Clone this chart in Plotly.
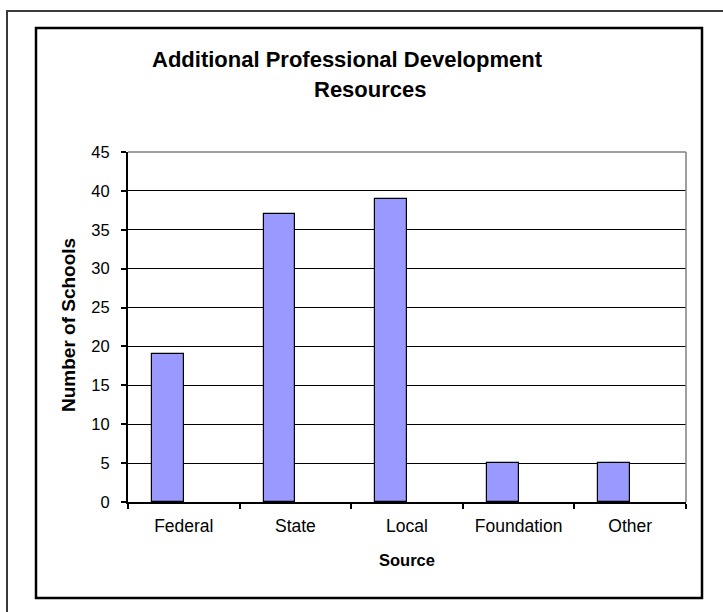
import plotly.graph_objects as go

categories = ["Federal", "State", "Local", "Foundation", "Other"]
schools = [19, 37, 39, 5, 5]
y_ticks = [0, 5, 10, 15, 20, 25, 30, 35, 40, 45]

title_line1 = "Additional Professional Development"
title_line2 = "Resources"
x_title = "Source"
y_title = "Number of Schools"

# pixel geometry helpers (plot area: x 128..686, y 152..502)
L, R, T, B = 128, 686, 152, 502
W, H = 723, 612
def px(x):
    return (x - L) / (R - L)
def py(y):
    return (B - y) / (B - T)

FONT = "Liberation Sans, Arial, sans-serif"

fig = go.Figure()
fig.add_trace(go.Bar(
    x=categories, y=schools,
    width=0.2857, offset=-0.2857,
    marker=dict(color="#9999FF", line=dict(color="black", width=1.2)),
))

fig.update_layout(
    width=W, height=H,
    margin=dict(l=L, r=W - R, t=T, b=H - B, autoexpand=False),
    paper_bgcolor="white", plot_bgcolor="white",
    showlegend=False,
    font=dict(family=FONT, color="black", size=16),
    bargap=0,
    xaxis=dict(
        type="category", showgrid=False,
        showline=True, linecolor="black", linewidth=2,
        ticks="outside", tickson="boundaries", ticklen=5, tickwidth=2, tickcolor="black",
        tickfont=dict(size=17.5, family=FONT), ticklabelstandoff=7,
        range=[-0.5, 4.5], fixedrange=True,
    ),
    yaxis=dict(
        range=[0, 45], tickvals=y_ticks,
        showgrid=True, gridcolor="black", gridwidth=1,
        showline=True, linecolor="black", linewidth=2,
        ticks="outside", ticklen=5, tickwidth=1.5, tickcolor="black",
        tickfont=dict(size=16.5, family=FONT), ticklabelstandoff=8,
        zeroline=False, fixedrange=True,
    ),
    shapes=[
        # outer frame
        dict(type="rect", xref="paper", yref="paper",
             x0=px(7), x1=px(740), y0=py(630), y1=py(11),
             line=dict(color="#3a3a3a", width=2), fillcolor="rgba(0,0,0,0)"),
        # inner chart box
        dict(type="rect", xref="paper", yref="paper",
             x0=px(36), x1=px(702), y0=py(598), y1=py(28),
             line=dict(color="black", width=2.5), fillcolor="rgba(0,0,0,0)"),
        # plot-area top/right border (gray)
        dict(type="line", xref="paper", yref="paper", x0=0, x1=1, y0=1, y1=1,
             line=dict(color="#808080", width=1.5)),
        dict(type="line", xref="paper", yref="paper", x0=1, x1=1, y0=0, y1=1,
             line=dict(color="#808080", width=1.5)),
    ],
    annotations=[
        dict(text="<b>" + title_line1 + "</b>", xref="paper", yref="paper",
             x=px(347), y=py(60), xanchor="center", yanchor="middle",
             showarrow=False, font=dict(size=22, family=FONT)),
        dict(text="<b>" + title_line2 + "</b>", xref="paper", yref="paper",
             x=px(370), y=py(89), xanchor="center", yanchor="middle",
             showarrow=False, font=dict(size=22, family=FONT)),
        dict(text="<b>" + x_title + "</b>", xref="paper", yref="paper",
             x=px(407), y=py(560), xanchor="center", yanchor="middle",
             showarrow=False, font=dict(size=16.5, family=FONT)),
        dict(text="<b>" + y_title + "</b>", xref="paper", yref="paper",
             x=px(68), y=py(325), xanchor="center", yanchor="middle",
             textangle=-90, showarrow=False, font=dict(size=19, family=FONT)),
    ],
)

fig.write_html("out.html")
